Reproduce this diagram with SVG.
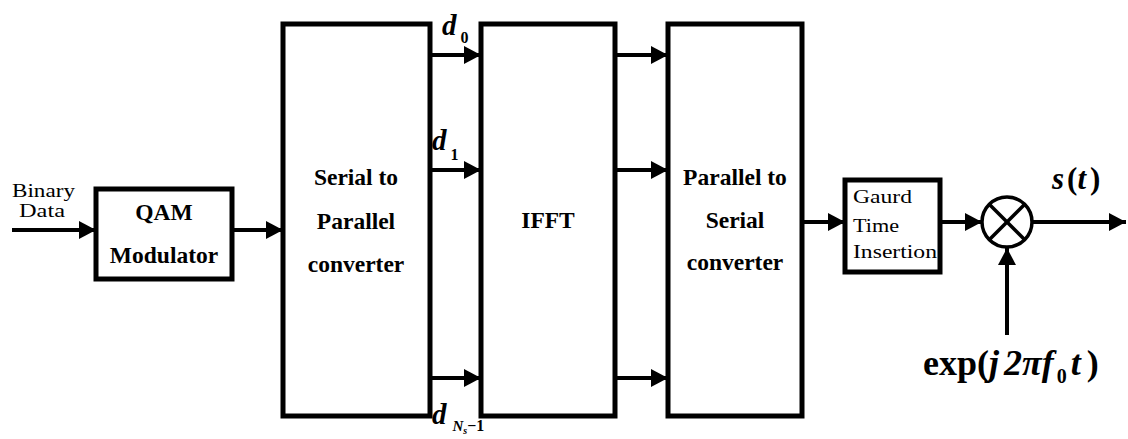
<svg xmlns="http://www.w3.org/2000/svg" width="1128" height="439" viewBox="0 0 1128 439">
  <style>
    text { font-family: "Liberation Serif", "DejaVu Serif", serif; fill: #000; }
    .box { fill: #fff; stroke: #000; stroke-width: 5; }
    .wire { stroke: #000; stroke-width: 4; fill: none; marker-end: url(#ah); }
    .lbl { font-weight: bold; font-size: 23.5px; text-anchor: middle; }
    .sm { font-size: 19px; }
    .math { font-weight: bold; font-style: italic; }
  </style>
  <defs>
    <marker id="ah" markerUnits="userSpaceOnUse" markerWidth="17" markerHeight="18" refX="17" refY="9" orient="auto">
      <path d="M0,0 L17,9 L0,18 z" fill="#000"/>
    </marker>
  </defs>

  <g id="connectors">
    <line class="wire" x1="12" y1="230" x2="96" y2="230"/>
    <line class="wire" x1="232" y1="230" x2="283" y2="230"/>
    <line class="wire" x1="430" y1="55" x2="481" y2="55"/>
    <line class="wire" x1="430" y1="170" x2="481" y2="170"/>
    <line class="wire" x1="430" y1="378" x2="481" y2="378"/>
    <line class="wire" x1="615" y1="55" x2="668" y2="55"/>
    <line class="wire" x1="615" y1="170" x2="668" y2="170"/>
    <line class="wire" x1="615" y1="378" x2="668" y2="378"/>
    <line class="wire" x1="802" y1="222" x2="845" y2="222"/>
    <line class="wire" x1="940" y1="222" x2="982" y2="222"/>
    <line class="wire" x1="1032" y1="222" x2="1126" y2="222"/>
    <line class="wire" x1="1007" y1="335" x2="1007" y2="248"/>
  </g>

  <g id="input-label">
    <text class="sm" x="12" y="197" textLength="63" lengthAdjust="spacingAndGlyphs">Binary</text>
    <text class="sm" x="19" y="217" textLength="46" lengthAdjust="spacingAndGlyphs">Data</text>
  </g>

  <g id="qam">
    <rect class="box" x="96" y="189" width="136" height="90"/>
    <text class="lbl" x="164" y="220" font-size="22">QAM</text>
    <text class="lbl" x="164" y="263" font-size="22">Modulator</text>
  </g>

  <g id="sp">
    <rect class="box" x="283" y="24" width="147" height="392"/>
    <text class="lbl" x="356" y="185">Serial to</text>
    <text class="lbl" x="356" y="229">Parallel</text>
    <text class="lbl" x="356" y="272">converter</text>
  </g>

  <g id="d-labels">
    <text class="math" x="442" y="35" font-size="29">d<tspan font-style="normal" font-size="16" dx="4" dy="8">0</tspan></text>
    <text class="math" x="432" y="150" font-size="29">d<tspan font-style="normal" font-size="16" dx="4" dy="10">1</tspan></text>
    <text class="math" x="432" y="424" font-size="29">d<tspan font-size="15" dx="6" dy="7">N</tspan><tspan font-size="10" dy="3">s</tspan><tspan font-style="normal" font-size="16" dy="-3">−1</tspan></text>
  </g>

  <g id="ifft">
    <rect class="box" x="481" y="24" width="134" height="392"/>
    <text class="lbl" x="548" y="228">IFFT</text>
  </g>

  <g id="ps">
    <rect class="box" x="668" y="24" width="134" height="392"/>
    <text class="lbl" x="735" y="185">Parallel to</text>
    <text class="lbl" x="735" y="228">Serial</text>
    <text class="lbl" x="735" y="270">converter</text>
  </g>

  <g id="guard">
    <rect class="box" x="845" y="180" width="95" height="92" stroke-width="4.5"/>
    <text class="sm" x="853" y="203" font-size="18" textLength="59" lengthAdjust="spacingAndGlyphs">Gaurd</text>
    <text class="sm" x="853" y="232" font-size="18" textLength="46" lengthAdjust="spacingAndGlyphs">Time</text>
    <text class="sm" x="853" y="258" font-size="18" textLength="84" lengthAdjust="spacingAndGlyphs">Insertion</text>
  </g>

  <g id="mixer">
    <circle cx="1007" cy="222" r="25" fill="#fff" stroke="#000" stroke-width="3.5"/>
    <line x1="989" y1="204" x2="1025" y2="240" stroke="#000" stroke-width="3.5"/>
    <line x1="1025" y1="204" x2="989" y2="240" stroke="#000" stroke-width="3.5"/>
  </g>

  <g id="output-label">
    <text class="math" x="1052" y="189" font-size="31">s<tspan font-style="normal" dx="3">(</tspan>t<tspan font-style="normal" dx="4">)</tspan></text>
  </g>

  <g id="carrier-label">
    <text class="math" x="923" y="375" font-size="36"><tspan font-style="normal">exp(</tspan>j<tspan dx="5">2πf</tspan><tspan font-style="normal" font-size="20" dx="3" dy="8">0</tspan><tspan dy="-8" dx="4">t</tspan><tspan font-style="normal" dx="6">)</tspan></text>
  </g>
</svg>
